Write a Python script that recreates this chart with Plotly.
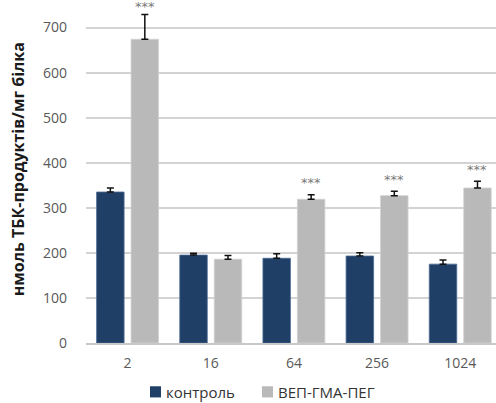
import plotly.graph_objects as go

categories = ["2", "16", "64", "256", "1024"]
control = [335, 195, 188, 193, 175]
control_err = [9, 4, 10, 7, 9]
vep = [674, 186, 319, 327, 344]
vep_err = [55, 8, 10, 10, 15]
significant = [True, False, True, True, True]
series_names = ["контроль", "ВЕП-ГМА-ПЕГ"]

dark = "#1f3f66"
grey = "#b9b9b9"

Y_MAX = 750
TOP, BOTTOM = 5, 60
PLOT_H = 403 - TOP - BOTTOM

fig = go.Figure()
fig.add_trace(go.Bar(
    x=categories, y=control, name=series_names[0], showlegend=False,
    marker=dict(color=dark, line=dict(color="#4a6a94", width=0.8)),
    error_y=dict(type="data", array=control_err, arrayminus=[0]*5, symmetric=False,
                 color="#111111", thickness=1.5, width=3.5),
))
fig.add_trace(go.Bar(
    x=categories, y=vep, name=series_names[1], showlegend=False,
    marker=dict(color=grey, line=dict(color="#d0d0d0", width=0.8)),
    error_y=dict(type="data", array=vep_err, arrayminus=[0]*5, symmetric=False,
                 color="#111111", thickness=1.5, width=3.5),
))

for i, (v, e, s) in enumerate(zip(vep, vep_err, significant)):
    if s:
        top_px = TOP + (Y_MAX - (v + e)) * PLOT_H / Y_MAX
        shift = min(12, top_px - 7)
        fig.add_annotation(x=i, y=v + e, xref="x", yref="y", text="***",
                           showarrow=False, xshift=17, yshift=shift,
                           font=dict(size=13, color="#7a7a7a", family="DejaVu Sans"))

# y-axis title
fig.add_annotation(x=-0.165, y=0.515, xref="paper", yref="paper",
                   text="<b>нмоль ТБК-продуктів/мг білка</b>",
                   textangle=-90, showarrow=False, xanchor="center", yanchor="middle",
                   font=dict(size=16, color="#1a1a1a", family="Open Sans"))

# manual legend (swatch + label)
legend_items = [(series_names[0], dark, 150), (series_names[1], grey, 262)]
shapes = []
for name, col, px in legend_items:
    x0 = (px - 86) / 410
    x1 = (px + 11 - 86) / 410
    shapes.append(dict(type="rect", xref="paper", yref="paper", x0=x0, x1=x1,
                       y0=-0.128, y1=-0.161, fillcolor=col, line=dict(width=0)))
    fig.add_annotation(x=(px + 14 - 86) / 410, y=-0.145, xref="paper", yref="paper",
                       text=name, showarrow=False, xanchor="left", yanchor="middle",
                       font=dict(size=15, color="#333333", family="Open Sans"))

fig.update_layout(
    width=496, height=403,
    margin=dict(l=86, r=0, t=TOP, b=BOTTOM, autoexpand=False),
    paper_bgcolor="white", plot_bgcolor="white",
    barmode="group", bargap=0.171, bargroupgap=0.203,
    font=dict(family="Open Sans", size=13, color="#595959"),
    shapes=shapes,
    xaxis=dict(type="category", range=[-0.5, 4.43], showgrid=False,
               showline=True, linecolor="#c8c8c8", linewidth=1.5, automargin=False,
               ticks="", ticklabelstandoff=6, tickfont=dict(size=14, color="#595959")),
    yaxis=dict(range=[0, Y_MAX], tickvals=[0, 100, 200, 300, 400, 500, 600, 700],
               showgrid=True, gridcolor="#d3d3d3", gridwidth=1.5, automargin=False,
               zeroline=False, showline=False, ticks="", ticklabelstandoff=18,
               tickfont=dict(size=14, color="#595959")),
)

fig.write_html("out.html", config={"displayModeBar": False},
               post_script="document.body.style.margin='0';document.body.style.overflow='hidden';")
